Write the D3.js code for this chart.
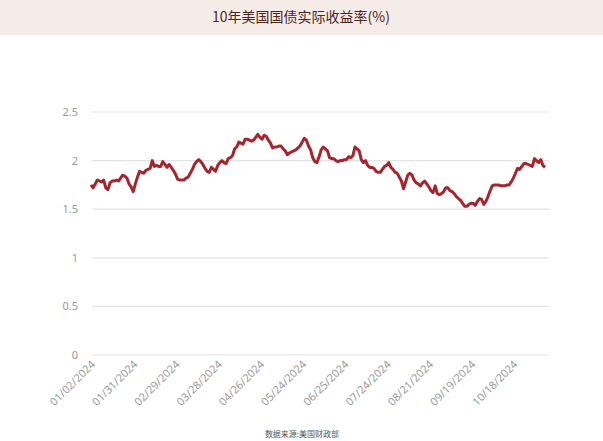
<!DOCTYPE html>
<html><head><meta charset="utf-8">
<script src="https://cdn.jsdelivr.net/npm/d3@7"></script>
<style>body{margin:0;background:#fff;font-family:"Noto Sans CJK SC","Noto Sans",sans-serif}</style>
</head><body><svg id="c" width="603" height="441"></svg>
<script>
const values=[1.75,1.72,1.76,1.80,1.79,1.78,1.80,1.72,1.70,1.77,1.79,1.79,1.80,1.79,1.82,1.85,1.84,1.82,1.76,1.73,
1.68,1.76,1.83,1.89,1.88,1.87,1.90,1.91,1.92,2.00,1.94,1.95,1.94,1.94,1.99,1.96,1.93,1.96,1.93,1.90,
1.86,1.81,1.80,1.80,1.80,1.82,1.83,1.87,1.91,1.96,1.99,2.01,1.99,1.96,1.92,1.89,1.88,1.93,1.91,1.89,
1.95,1.98,2.00,1.98,1.97,2.02,2.03,2.05,2.12,2.14,2.19,2.18,2.17,2.22,2.22,2.21,2.20,2.21,2.24,2.27,
2.24,2.22,2.26,2.25,2.21,2.18,2.13,2.14,2.14,2.15,2.15,2.12,2.10,2.06,2.08,2.09,2.10,2.11,2.13,2.15,
2.19,2.23,2.21,2.15,2.11,2.03,1.99,1.98,2.04,2.11,2.14,2.12,2.10,2.03,2.02,2.02,2.00,1.99,2.00,2.00,
2.01,2.01,2.04,2.03,2.05,2.14,2.12,2.10,2.01,1.98,2.00,1.95,1.93,1.93,1.92,1.89,1.88,1.88,1.91,1.94,
1.95,1.98,1.93,1.91,1.88,1.87,1.83,1.79,1.71,1.78,1.85,1.87,1.85,1.80,1.77,1.76,1.74,1.77,1.79,1.76,
1.73,1.69,1.67,1.74,1.66,1.65,1.66,1.68,1.72,1.72,1.69,1.68,1.66,1.63,1.61,1.59,1.56,1.53,1.53,1.55,
1.56,1.56,1.54,1.58,1.61,1.60,1.55,1.58,1.63,1.69,1.74,1.75,1.75,1.75,1.74,1.74,1.74,1.75,1.75,1.78,
1.82,1.87,1.92,1.91,1.94,1.97,1.97,1.96,1.95,1.94,2.02,2.00,1.98,2.01,1.95,1.93];
const tickLabels=["01/02/2024","01/31/2024","02/29/2024","03/28/2024","04/26/2024","05/24/2024","06/25/2024","07/24/2024","08/21/2024","09/19/2024","10/18/2024"];
const tickIndex=[0,20,40,60,80,100,120,140,160,180,200];
const yTicks=[0,0.5,1,1.5,2,2.5];

const svg=d3.select("#c");
svg.append("rect").attr("width",603).attr("height",35).attr("fill","#f5ece7");
svg.append("text").attr("x",301).attr("y",22).attr("text-anchor","middle").attr("font-size",14).attr("fill","#4e2424").text("10年美国国债实际收益率(%)");
const x=d3.scaleLinear().domain([0,values.length-1]).range([91,545]);
const y=d3.scaleLinear().domain([0,2.5]).range([355,112]);
const g=svg.append("g");
yTicks.forEach(t=>{
  g.append("line").attr("x1",92).attr("x2",549).attr("y1",y(t)).attr("y2",y(t)).attr("stroke","#e3e3e3").attr("stroke-width",1.2);
  g.append("text").attr("x",78).attr("y",y(t)+4).attr("text-anchor","end").attr("font-size",11).attr("fill","#999").attr("font-family","Noto Sans").text(t);
});
tickIndex.forEach((ti,i)=>{
  g.append("text").attr("transform",`translate(${x(ti)+5},${365}) rotate(-45)`).attr("text-anchor","end").attr("font-size",11).attr("fill","#999").attr("font-family","Noto Sans").text(tickLabels[i]);
});
svg.append("path").datum(values).attr("fill","none").attr("stroke","#a3262f").attr("stroke-width",3).attr("stroke-linejoin","round")
  .attr("d",d3.line().x((d,i)=>x(i)).y(d=>y(d)));
svg.append("text").attr("x",302).attr("y",437).attr("text-anchor","middle").attr("font-size",8).attr("fill","#555").text("数据来源:美国财政部");
</script></body></html>
